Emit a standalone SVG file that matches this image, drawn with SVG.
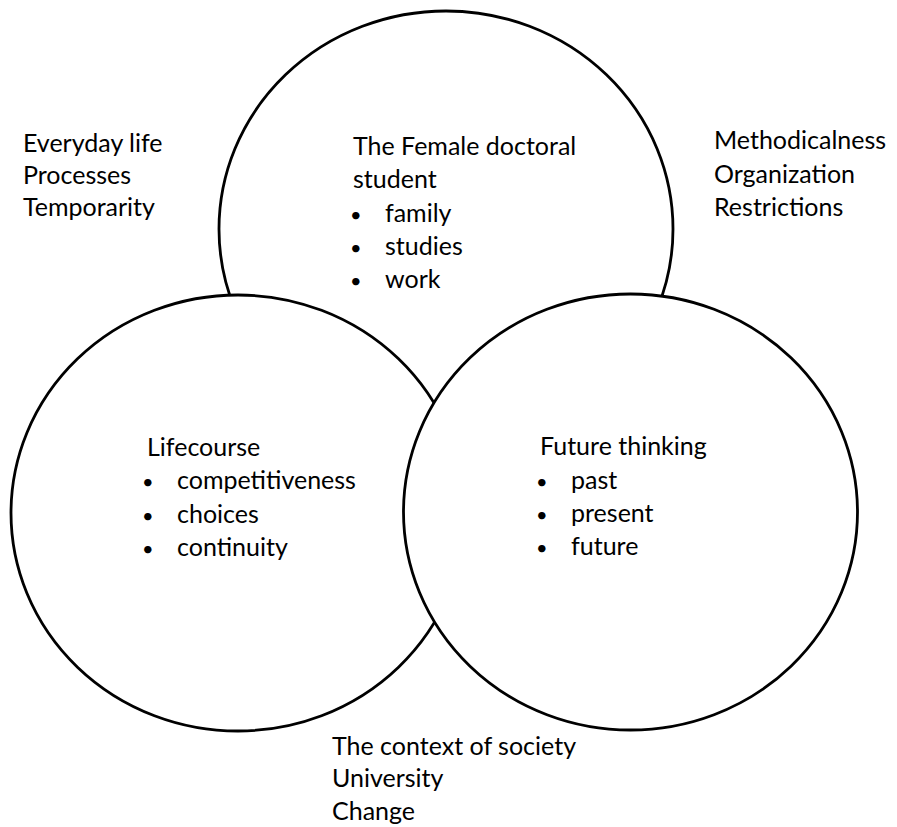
<svg xmlns="http://www.w3.org/2000/svg" width="897" height="827" viewBox="0 0 897 827">
<style>
.c{fill:#fff;stroke:#000;stroke-width:2.8}
text{font-family:Lato,"Open Sans",sans-serif;font-size:25px;fill:#000}
.b{font-size:20px}
</style>
<rect width="897" height="827" fill="#fff"/>
<g id="node-top">
<ellipse class="c" cx="446" cy="229" rx="227" ry="218"/>
<text x="353" y="155">The Female doctoral</text>
<text x="353" y="188">student</text>
<text class="b" x="350" y="222">•</text><text x="385" y="222">family</text>
<text class="b" x="350" y="255">•</text><text x="385" y="255">studies</text>
<text class="b" x="350" y="288">•</text><text x="385" y="288">work</text>
</g>
<g id="node-left">
<ellipse class="c" cx="238" cy="513" rx="227" ry="218"/>
<text x="147" y="456">Lifecourse</text>
<text class="b" x="142" y="489">•</text><text x="177" y="489">competitiveness</text>
<text class="b" x="142" y="523">•</text><text x="177" y="523">choices</text>
<text class="b" x="142" y="556">•</text><text x="177" y="556">continuity</text>
</g>
<g id="node-right">
<ellipse class="c" cx="630.5" cy="512" rx="227" ry="218"/>
<text x="540" y="455">Future thinking</text>
<text class="b" x="536" y="489">•</text><text x="571" y="489">past</text>
<text class="b" x="536" y="522">•</text><text x="571" y="522">present</text>
<text class="b" x="536" y="555">•</text><text x="571" y="555">future</text>
</g>
<g id="label-everyday">
<text x="23" y="152">Everyday life</text>
<text x="23" y="184">Processes</text>
<text x="23" y="216">Temporarity</text>
</g>
<g id="label-method">
<text x="714" y="149">Methodicalness</text>
<text x="714" y="183">Organization</text>
<text x="714" y="216">Restrictions</text>
</g>
<g id="label-context">
<text x="332" y="755">The context of society</text>
<text x="332" y="787">University</text>
<text x="332" y="820">Change</text>
</g>
<g id="connectors"/>
</svg>
